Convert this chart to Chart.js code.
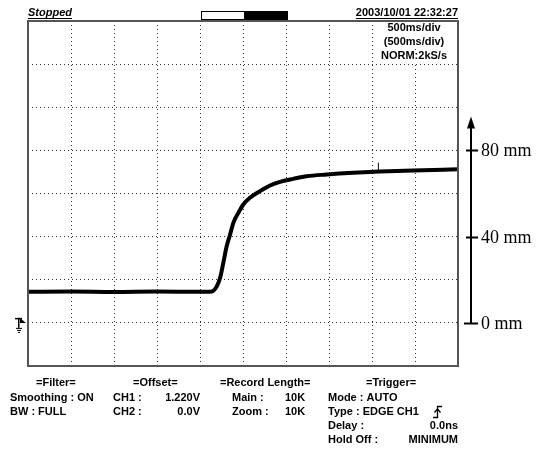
<!DOCTYPE html>
<html>
<head>
<meta charset="utf-8">
<script src="https://cdn.jsdelivr.net/npm/chart.js@4.4.1/dist/chart.umd.min.js"></script>
<style>
html, body { margin: 0; padding: 0; background: #fff; }
</style>
</head>
<body>
<canvas id="scopeChart" width="536" height="449"></canvas>
<script>
// trace: time (s, 500 ms/div) vs position (mm)
const timeSec = [0, 0.5, 1.0, 1.5, 2.0, 2.136, 2.194, 2.233, 2.271, 2.31, 2.349, 2.388, 2.446, 2.504,
    2.581, 2.698, 2.814, 2.93, 3.085, 3.24, 3.473, 3.783, 4.093, 4.48, 5.0];
const positionMm = [14.4, 14.5, 14.3, 14.5, 14.4, 14.6, 16.9, 20.8, 27.8, 35.5, 40.9, 46.4, 51.0, 54.9,
    58.0, 61.1, 63.7, 65.4, 66.8, 68.0, 68.8, 69.6, 70.2, 70.7, 71.2];
// small glitch near 4.07 s
const spikeTime = [4.074, 4.074];
const spikeMm = [70.4, 74.3];

const mmTicks = [0, 40, 80];
const mmLabels = ['0 mm', '40 mm', '80 mm'];

const headerLeft = 'Stopped';
const headerDate = '2003/10/01 22:32:27';
const scopeInfo = ['500ms/div', '(500ms/div)', 'NORM:2kS/s'];

const footerText = [
    ['=Filter=', 36, 0, 'left'], ['Smoothing : ON', 10, 1, 'left'], ['BW : FULL', 10, 2, 'left'],
    ['=Offset=', 133, 0, 'left'], ['CH1 :', 113, 1, 'left'], ['1.220V', 200, 1, 'right'],
    ['CH2 :', 113, 2, 'left'], ['0.0V', 200, 2, 'right'],
    ['=Record Length=', 220, 0, 'left'], ['Main :', 232, 1, 'left'], ['10K', 285, 1, 'left'],
    ['Zoom :', 232, 2, 'left'], ['10K', 285, 2, 'left'],
    ['=Trigger=', 366, 0, 'left'], ['Mode : AUTO', 328, 1, 'left'], ['Type : EDGE CH1', 328, 2, 'left'],
    ['Delay :', 328, 3, 'left'], ['0.0ns', 458, 3, 'right'],
    ['Hold Off :', 328, 4, 'left'], ['MINIMUM', 458, 4, 'right']
];
const footerRowY = [383, 398, 412, 426, 440];

const scopeDecor = {
    id: 'scopeDecor',
    beforeDraw(chart) {
        const ctx = chart.ctx;
        ctx.save();
        ctx.fillStyle = '#fff';
        ctx.fillRect(0, 0, chart.width, chart.height);
        ctx.restore();
    },
    afterDraw(chart) {
        const ctx = chart.ctx;
        const a = chart.chartArea;
        const yScale = chart.scales.y;
        ctx.save();

        // screen frame
        ctx.strokeStyle = '#555';
        ctx.lineWidth = 2;
        ctx.strokeRect(a.left, a.top, a.right - a.left, a.bottom - a.top);

        // header
        ctx.fillStyle = '#000';
        ctx.textBaseline = 'alphabetic';
        ctx.font = 'italic bold 11px "Liberation Sans"';
        ctx.textAlign = 'left';
        ctx.fillText(headerLeft, 28, 16);
        let w = ctx.measureText(headerLeft).width;
        ctx.fillRect(28, 18, w, 1);
        ctx.font = 'bold 11px "Liberation Sans"';
        ctx.textAlign = 'right';
        ctx.fillText(headerDate, 458, 16);
        w = ctx.measureText(headerDate).width;
        ctx.fillRect(458 - w, 18, w, 1);

        // record position bar
        ctx.lineWidth = 1;
        ctx.strokeStyle = '#000';
        ctx.strokeRect(201.5, 11.5, 86, 8);
        ctx.fillRect(244, 11, 44, 9);

        // timebase info inside the screen
        ctx.font = 'bold 11px "Liberation Sans"';
        ctx.textAlign = 'center';
        ctx.textBaseline = 'middle';
        scopeInfo.forEach((t, i) => {
            const tw = ctx.measureText(t).width;
            ctx.fillStyle = '#fff';
            ctx.fillRect(414 - tw / 2 - 1, 22 + i * 14, tw + 2, 13);
            ctx.fillStyle = '#000';
            ctx.fillText(t, 414, 28 + i * 14);
        });

        // footer settings
        ctx.font = 'bold 11px "Liberation Sans"';
        footerText.forEach(([t, x, row, align]) => {
            ctx.textAlign = align;
            ctx.fillText(t, x, footerRowY[row]);
        });
        // rising edge symbol after "Type : EDGE CH1"
        ctx.lineWidth = 1.3;
        ctx.beginPath();
        ctx.moveTo(433, 417.5); ctx.lineTo(437.5, 417.5); ctx.lineTo(437.5, 406.5); ctx.lineTo(442, 406.5);
        ctx.stroke();
        ctx.beginPath();
        ctx.moveTo(434.5, 412.5); ctx.lineTo(437.5, 409); ctx.lineTo(440.5, 412.5);
        ctx.stroke();

        // ch1 ground marker at 0 mm
        const gy = yScale.getPixelForValue(0);
        ctx.fillStyle = '#000';
        ctx.fillRect(15, gy - 5, 7, 1.5);
        ctx.fillRect(18, gy - 5, 1.5, 10);
        ctx.beginPath();
        ctx.moveTo(20, gy - 5); ctx.lineTo(26, gy); ctx.lineTo(20, gy); ctx.closePath();
        ctx.fill();
        ctx.fillRect(16, gy + 5, 6, 1);
        ctx.fillRect(17, gy + 7, 4, 1);
        ctx.fillRect(18, gy + 9, 2, 1);

        // position axis to the right of the screen
        const ax = 471;
        const y0 = yScale.getPixelForValue(mmTicks[0]);
        const yTop = yScale.getPixelForValue(mmTicks[mmTicks.length - 1]) - 34;
        ctx.strokeStyle = '#000';
        ctx.lineWidth = 2;
        ctx.beginPath();
        ctx.moveTo(ax, y0); ctx.lineTo(ax, yTop + 8);
        ctx.stroke();
        ctx.beginPath();
        ctx.moveTo(ax, yTop); ctx.lineTo(ax + 4, yTop + 12); ctx.lineTo(ax - 4, yTop + 12); ctx.closePath();
        ctx.fill();
        ctx.font = '18px "Liberation Serif"';
        ctx.textAlign = 'left';
        ctx.textBaseline = 'middle';
        mmTicks.forEach((v, i) => {
            const py = Math.round(yScale.getPixelForValue(v)) + 0.5;
            ctx.beginPath();
            ctx.moveTo(i === 0 ? 464 : 466, py); ctx.lineTo(478, py);
            ctx.stroke();
            ctx.fillText(mmLabels[i], 481, py + 1);
        });
        ctx.restore();
    }
};

const gridStyle = {color: '#333', lineWidth: 1, drawTicks: false};

new Chart(document.getElementById('scopeChart'), {
    type: 'line',
    data: {
        datasets: [{
            data: timeSec.map((t, i) => ({x: t, y: positionMm[i]})),
            borderColor: '#000',
            borderWidth: 4,
            pointRadius: 0,
            cubicInterpolationMode: 'monotone',
            fill: false
        }, {
            data: spikeTime.map((t, i) => ({x: t, y: spikeMm[i]})),
            borderColor: '#000',
            borderWidth: 1,
            pointRadius: 0,
            fill: false
        }]
    },
    options: {
        responsive: false,
        animation: false,
        layout: {padding: {left: 28, top: 21, right: 78, bottom: 83}},
        plugins: {legend: {display: false}, tooltip: {enabled: false}},
        scales: {
            x: {
                type: 'linear', min: 0, max: 5,
                ticks: {display: false, stepSize: 0.5},
                grid: gridStyle,
                border: {display: false, dash: [1, 3]}
            },
            y: {
                type: 'linear', min: -20, max: 140,
                ticks: {display: false, stepSize: 20},
                grid: gridStyle,
                border: {display: false, dash: [1, 3]}
            }
        }
    },
    plugins: [scopeDecor]
});
</script>
</body>
</html>
